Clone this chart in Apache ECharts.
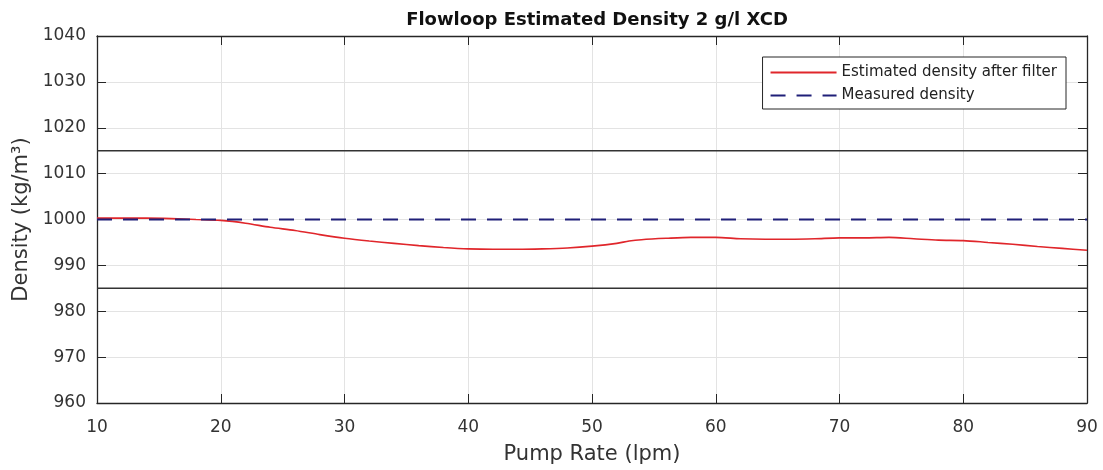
<!DOCTYPE html>
<html>
<head>
<meta charset="utf-8">
<script src="https://cdn.jsdelivr.net/npm/echarts@6/dist/echarts.min.js"></script>
<style>
  html, body { margin: 0; padding: 0; background: #fff; }
  #chart { width: 1103px; height: 470px; }
</style>
</head>
<body>
<div id="chart"></div>
<script>
// pump rate (lpm) and filtered density estimate (kg/m3)
const pumpRate = [10, 12, 14, 16, 18, 20, 22, 24, 26, 28, 30, 32, 34, 36, 38, 40, 42, 44, 46, 48, 50,
  52, 53, 54, 56, 58, 60, 62, 64, 66, 68, 70, 72, 74, 76, 78, 80, 82, 84, 86, 88, 90]
const estimatedDensity = [1000.3, 1000.3, 1000.3, 1000.2, 1000.0, 999.8, 999.2, 998.3, 997.6, 996.7, 995.9,
  995.3, 994.8, 994.3, 993.9, 993.6, 993.5, 993.5, 993.6, 993.8, 994.2,
  994.8, 995.3, 995.6, 995.9, 996.1, 996.1, 995.8, 995.7, 995.7, 995.8, 996.0, 996.0, 996.1, 995.8, 995.5,
  995.4, 995.0, 994.6, 994.1, 993.7, 993.3]

// measured reference and tolerance band
const measuredRate = [10, 90]
const measuredDensity = [1000, 1000]
const upperLimit = [1015, 1015]
const lowerLimit = [985, 985]

const seriesNames = ['Estimated density after filter', 'Measured density']

function pairs(xs, ys) {
  return xs.map((x, i) => [x, ys[i]])
}

const font = 'DejaVu Sans, Liberation Sans, Arial, sans-serif'
const axisColor = '#262626'
const gridColor = '#e3e3e3'
const labelColor = '#333'

const myChart = echarts.init(document.getElementById('chart'))

// plain box side: line + inside ticks, no labels
function boxAxis(extra) {
  return Object.assign({
    type: 'value',
    axisLine: { show: true, onZero: false, lineStyle: { color: axisColor, width: 1.3 } },
    axisTick: { show: true, inside: true, length: 9, lineStyle: { color: axisColor } },
    axisLabel: { show: false },
    splitLine: { show: false }
  }, extra)
}

const option = {
  animation: false,
  textStyle: { fontFamily: font },
  title: {
    text: 'Flowloop Estimated Density 2 g/l XCD',
    left: 592,
    textAlign: 'center',
    top: 6,
    textStyle: { fontFamily: font, fontSize: 18, fontWeight: 'bold', color: '#111' }
  },
  legend: {
    data: seriesNames,
    orient: 'vertical',
    right: 37,
    top: 57,
    padding: [8, 9, 6, 7],
    itemGap: 8,
    itemWidth: 66,
    itemHeight: 16,
    backgroundColor: '#fff',
    borderColor: '#262626',
    borderWidth: 1,
    itemStyle: { opacity: 0 },
    textStyle: { fontFamily: font, fontSize: 15, color: '#222' }
  },
  grid: { left: 97, right: 16, top: 36, bottom: 67 },
  xAxis: [
    boxAxis({
      min: 10,
      max: 90,
      interval: 10,
      name: 'Pump Rate (lpm)',
      nameLocation: 'middle',
      nameGap: 41,
      nameTextStyle: { fontFamily: font, fontSize: 21, color: labelColor },
      axisLabel: { show: true, fontFamily: font, fontSize: 17, color: labelColor, margin: 16 },
      splitLine: { show: true, lineStyle: { color: gridColor } }
    }),
    boxAxis({ position: 'top', min: 10, max: 90, interval: 10 })
  ],
  yAxis: [
    boxAxis({
      min: 960,
      max: 1040,
      interval: 10,
      name: 'Density (kg/m³)',
      nameLocation: 'middle',
      nameGap: 61,
      nameTextStyle: { fontFamily: font, fontSize: 21, color: labelColor },
      axisLabel: {
        show: true,
        fontFamily: font,
        fontSize: 17,
        color: labelColor,
        margin: 11,
        formatter: v => String(v)
      },
      splitLine: { show: true, lineStyle: { color: gridColor } }
    }),
    boxAxis({ position: 'right', min: 960, max: 1040, interval: 10 })
  ],
  series: [
    {
      name: 'upper',
      type: 'line',
      data: pairs(measuredRate, upperLimit),
      symbol: 'none',
      silent: true,
      lineStyle: { color: '#333', width: 1.5 }
    },
    {
      name: 'lower',
      type: 'line',
      data: pairs(measuredRate, lowerLimit),
      symbol: 'none',
      silent: true,
      lineStyle: { color: '#333', width: 1.5 }
    },
    {
      name: seriesNames[1],
      type: 'line',
      data: pairs(measuredRate, measuredDensity),
      symbol: 'none',
      z: 3,
      lineStyle: { color: '#1f1f78', width: 1.8, type: [15, 11] },
      itemStyle: { color: '#1f1f78' }
    },
    {
      name: seriesNames[0],
      type: 'line',
      data: pairs(pumpRate, estimatedDensity),
      symbol: 'none',
      smooth: 0.3,
      z: 2,
      lineStyle: { color: '#e0262b', width: 1.6 },
      itemStyle: { color: '#e0262b' }
    }
  ]
}

myChart.setOption(option)
</script>
</body>
</html>
